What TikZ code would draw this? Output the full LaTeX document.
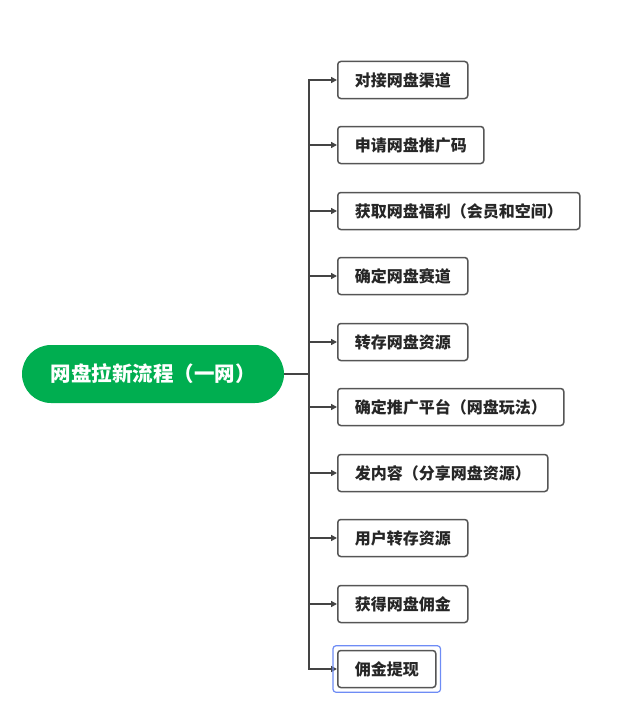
\documentclass[tikz,border=0pt]{standalone}
\usepackage{fontspec}
\newfontfamily\cjk{Noto Sans CJK SC}
\usetikzlibrary{arrows.meta}
\definecolor{rootgreen}{RGB}{0,174,80}
\definecolor{boxgray}{RGB}{85,85,85}
\definecolor{linegray}{RGB}{68,68,68}
\definecolor{selblue}{RGB}{110,140,245}
\begin{document}
\begin{tikzpicture}[
        x=1pt, y=-1pt,
        root/.style={fill=rootgreen, rounded corners=29pt, minimum width=262pt, minimum height=58pt, text=white, font=\cjk\bfseries\fontsize{20.5}{24}\selectfont},
        item/.style={draw=boxgray, line width=1.5pt, rounded corners=3pt, anchor=west, minimum height=37pt, inner xsep=17pt, text=black!85, font=\cjk\bfseries\fontsize{16}{19}\selectfont},
        conn/.style={draw=linegray, line width=2.8pt, -{Triangle[length=6pt,width=6pt]}},
        selbox/.style={draw=selblue, line width=1.2pt, rounded corners=3pt},
    ]
    \useasboundingbox (0,0) rectangle (631,725);
    \node[root](root) at (153,374){网盘拉新流程（一网）};
    \coordinate (trunk) at (309,374);
    \foreach \i/\y/\txt in {1/80/对接网盘渠道, 2/145/申请网盘推广码, 3/211/获取网盘福利（会员和空间）, 4/276/确定网盘赛道, 5/342/转存网盘资源, 6/407/确定推广平台（网盘玩法）, 7/473/发内容（分享网盘资源）, 8/538/用户转存资源, 9/604/获得网盘佣金, 10/669/佣金提现}{
        \node[item](c\i) at (337,\y){\txt};
        \draw[conn] (root.east) -- (trunk) |- (c\i.west);
    }
    \draw[selbox] ([xshift=-4pt,yshift=4pt]c10.north west) rectangle ([xshift=4pt,yshift=-4pt]c10.south east);
\end{tikzpicture}
\end{document}
